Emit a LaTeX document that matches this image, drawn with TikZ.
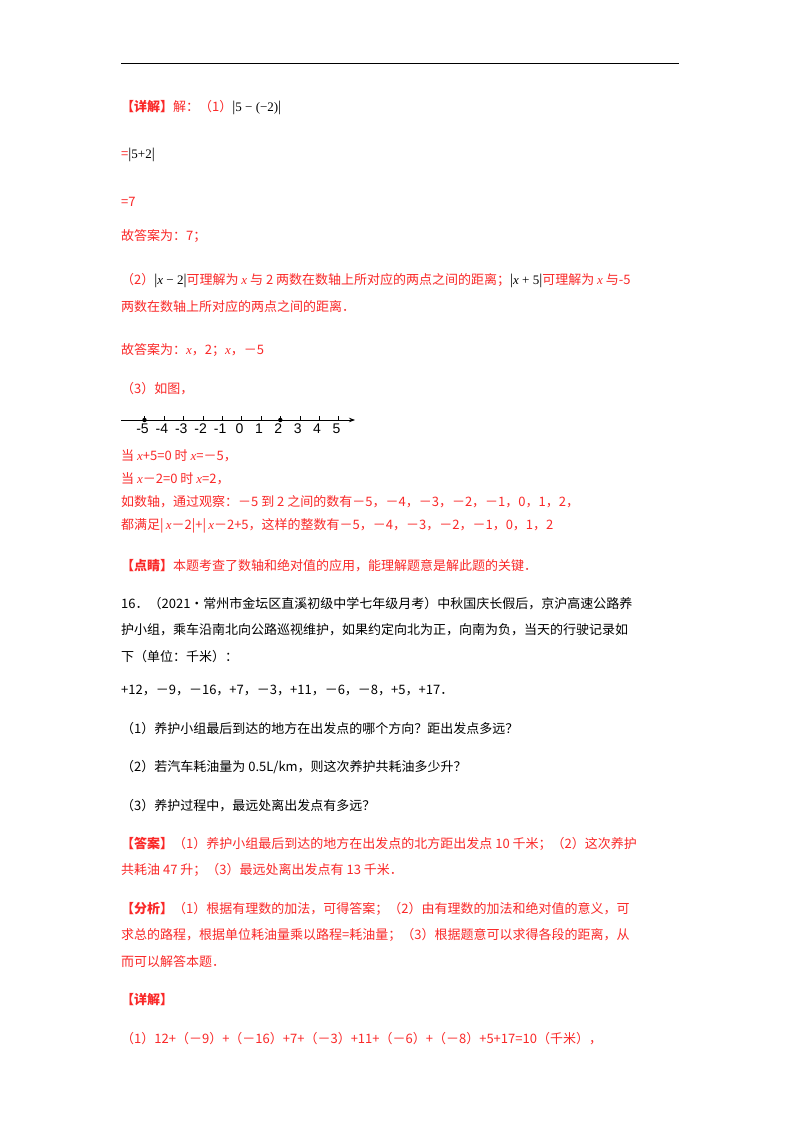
\documentclass[tikz,border=0pt]{standalone}
\usepackage{fontspec}
\setmainfont{Noto Sans CJK SC}
\newfontfamily\mf{Liberation Serif}
\newfontfamily\nf{Liberation Sans}
\newcommand{\xx}{{\mf\itshape x}}
\newcommand{\ab}[1]{\textcolor{black}{{\mf\fontsize{15}{16}\selectfont|}{\mf #1}{\mf\fontsize{15}{16}\selectfont|}}}
\usetikzlibrary{arrows.meta}
\definecolor{rd}{RGB}{250,40,40}
\begin{document}
\begin{tikzpicture}[x=1pt,y=-1pt,
  tx/.style={anchor=west,inner sep=0pt,font=\fontsize{13}{16}\selectfont},
  red/.style={tx,text=rd}]
\useasboundingbox[fill=white] (0,0) rectangle (800,1132);
\draw[line width=1pt] (121,64) -- (679,64);
\node[red] (l1) at (121,108) {\textbf{【详解】}解：（1）\ab{5 − (−2)}};
\node[red] (l2) at (121,155) {=\ab{5+2}};
\node[red] (l3) at (121,202) {=7};
\node[red] (l4) at (121,236) {故答案为：7；};
\node[red] (l5) at (121,281) {（2）\ab{\itshape x\upshape\ −\ 2}可理解为 \xx{} 与 2 两数在数轴上所对应的两点之间的距离；\ab{\itshape x\upshape\ +\ 5}可理解为 \xx{} 与-5};
\node[red] (l6) at (121,307) {两数在数轴上所对应的两点之间的距离．};
\node[red] (l7) at (121,350) {故答案为：\xx，2；\xx，－5};
\node[red] (l8) at (121,389) {（3）如图，};
% number line
\coordinate (ns) at (121,420);
\coordinate (ne) at (355,420);
\draw[line width=0.8pt,-{Stealth[length=6pt]}] (ns) -- (ne);
\foreach \i in {-5,...,5}{
  \draw (241.5+19.4*\i,420) -- ++(0,-4);
  \node[inner sep=0pt,anchor=north,font=\nf\fontsize{14}{14}\selectfont] at (241.5+19.4*\i-2,424) {\i};
}
\fill (144.5,420) circle (2.2pt);
\fill (241.5+19.4*2,420) circle (2.2pt);
\node[red] (l9) at (121,456) {当 \xx+5=0 时 \xx=－5，};
\node[red] (l10) at (121,479) {当 \xx－2=0 时 \xx=2，};
\node[red] (l11) at (121,502) {如数轴，通过观察：－5 到 2 之间的数有－5，－4，－3，－2，－1，0，1，2，};
\node[red] (l12) at (121,526) {都满足|\,\xx－2|+|\,\xx－2+5，这样的整数有－5，－4，－3，－2，－1，0，1，2};
\node[red] (l13) at (121,566) {\textbf{【点睛】}本题考查了数轴和绝对值的应用，能理解题意是解此题的关键．};
\node[tx] (p1) at (121,604) {16．（2021·常州市金坛区直溪初级中学七年级月考）中秋国庆长假后，京沪高速公路养};
\node[tx] (p2) at (121,630) {护小组，乘车沿南北向公路巡视维护，如果约定向北为正，向南为负，当天的行驶记录如};
\node[tx] (p3) at (121,657) {下（单位：千米）：};
\node[tx] (p4) at (121,690) {+12，－9，－16，+7，－3，+11，－6，－8，+5，+17．};
\node[tx] (p5) at (121,729) {（1）养护小组最后到达的地方在出发点的哪个方向？距出发点多远？};
\node[tx] (p6) at (121,767) {（2）若汽车耗油量为 0.5L/km，则这次养护共耗油多少升？};
\node[tx] (p7) at (121,806) {（3）养护过程中，最远处离出发点有多远？};
\node[red] (a1) at (121,844) {\textbf{【答案】}（1）养护小组最后到达的地方在出发点的北方距出发点 10 千米；（2）这次养护};
\node[red] (a2) at (121,870) {共耗油 47 升；（3）最远处离出发点有 13 千米．};
\node[red] (b1) at (121,909) {\textbf{【分析】}（1）根据有理数的加法，可得答案；（2）由有理数的加法和绝对值的意义，可};
\node[red] (b2) at (121,935) {求总的路程，根据单位耗油量乘以路程=耗油量；（3）根据题意可以求得各段的距离，从};
\node[red] (b3) at (121,962) {而可以解答本题．};
\node[red] (c1) at (121,1000) {\textbf{【详解】}};
\node[red] (c2) at (121,1039) {（1）12+（－9）+（－16）+7+（－3）+11+（－6）+（－8）+5+17=10（千米），};
\end{tikzpicture}
\end{document}
